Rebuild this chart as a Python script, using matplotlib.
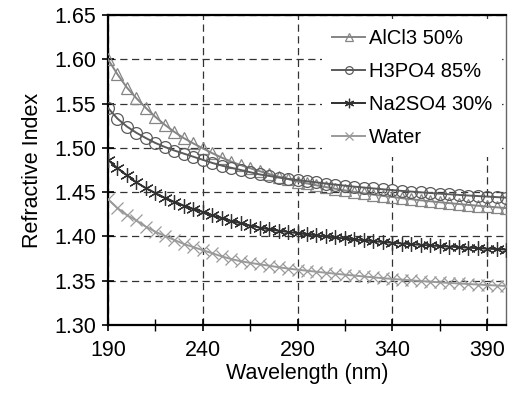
import matplotlib

matplotlib.use("Agg")
import matplotlib.pyplot as plt
from matplotlib.ticker import MultipleLocator, FormatStrFormatter

plt.rcParams["font.family"] = ["Liberation Sans", "DejaVu Sans"]

# wavelength grid, every 5 nm
wavelength = list(range(190, 401, 5))

alcl3 = [1.600, 1.583, 1.568, 1.556, 1.545, 1.535, 1.526, 1.518, 1.511, 1.505,
         1.4995, 1.494, 1.489, 1.4845, 1.4805, 1.477, 1.4737, 1.4705, 1.4675, 1.4647,
         1.462, 1.4598, 1.4577, 1.4557, 1.4538, 1.452, 1.4503, 1.4487, 1.4472, 1.4458,
         1.4445, 1.4432, 1.442, 1.4408, 1.4397, 1.4386, 1.4376, 1.4366, 1.4356, 1.4347,
         1.4338, 1.4329, 1.432]
h3po4 = [1.545, 1.533, 1.524, 1.517, 1.511, 1.5055, 1.501, 1.497, 1.4935, 1.490,
         1.4865, 1.483, 1.480, 1.4775, 1.475, 1.4725, 1.470, 1.4683, 1.4665, 1.465,
         1.4636, 1.4623, 1.461, 1.4597, 1.4585, 1.4573, 1.4562, 1.4552, 1.4542, 1.4532,
         1.4523, 1.4514, 1.4506, 1.4498, 1.449, 1.4483, 1.4476, 1.4469, 1.4462, 1.4456,
         1.445, 1.4444, 1.4438]
na2so4 = [1.4865, 1.477, 1.469, 1.461, 1.4545, 1.449, 1.4435, 1.439, 1.4348, 1.431,
          1.4275, 1.4238, 1.4205, 1.4175, 1.4148, 1.4123, 1.410, 1.408, 1.4064, 1.405,
          1.4037, 1.4024, 1.4012, 1.4, 1.3988, 1.3977, 1.3966, 1.3956, 1.3946, 1.3937,
          1.3928, 1.392, 1.3912, 1.3905, 1.3898, 1.3891, 1.3885, 1.3879, 1.3873, 1.3867,
          1.3862, 1.3857, 1.3852]
water = [1.442, 1.432, 1.424, 1.418, 1.411, 1.4053, 1.4005, 1.396, 1.3915, 1.388,
         1.3845, 1.381, 1.3775, 1.3745, 1.372, 1.3702, 1.3685, 1.367, 1.3652, 1.3637,
         1.3625, 1.3613, 1.3601, 1.359, 1.3579, 1.3568, 1.3558, 1.3548, 1.3538, 1.3529,
         1.352, 1.3512, 1.3504, 1.3496, 1.3489, 1.3482, 1.3475, 1.3469, 1.3463, 1.3457,
         1.3451, 1.3446, 1.3441]

x_ticks = [190, 240, 290, 340, 390]
x_minor = [215, 265, 315, 365]

# label, values, colour, marker, marker size
series = [
    ("AlCl3 50%", alcl3, "#858585", "^", 9),
    ("H3PO4 85%", h3po4, "#5a5a5a", "o", 8.5),
    ("Na2SO4 30%", na2so4, "#303030", (6, 2, 0), 10.5),
    ("Water", water, "#9a9a9a", "x", 9),
]

fig = plt.figure(figsize=(5.08, 4.05), dpi=100)
ax = fig.add_axes([0.2126, 0.1975, 0.7835, 0.7655])

for label, vals, col, mk, ms in series:
    ax.plot(wavelength, vals, color=col, linewidth=1.4, marker=mk, markersize=ms,
            markerfacecolor="none", markeredgecolor=col, markeredgewidth=0.9,
            label=label, zorder=3)

ax.set_xlim(190, 400)
ax.set_ylim(1.30, 1.65)
ax.set_xticks(x_ticks)
ax.set_xticks(x_minor, minor=True)
ax.yaxis.set_major_locator(MultipleLocator(0.05))
ax.yaxis.set_major_formatter(FormatStrFormatter("%.2f"))

ax.grid(True, which="major", color="#333333", linewidth=0.9,
        linestyle=(0, (5.8, 3.6)), zorder=1)

ax.tick_params(which="major", direction="inout", length=9, width=1.2,
               labelsize=15.5, colors="black", pad=6)
ax.tick_params(which="minor", direction="inout", length=8, width=1.0)
ax.tick_params(axis="y", which="major", pad=4)

for side in ("left", "bottom", "top"):
    ax.spines[side].set_linewidth(1.6)
ax.spines["right"].set_linewidth(1.0)
ax.spines["right"].set_color("#666666")

ax.set_xlabel("Wavelength (nm)", fontsize=15.5, labelpad=2)
ax.set_ylabel("Refractive Index", fontsize=15.5, labelpad=8)

leg = ax.legend(loc="upper right", fontsize=14.5, frameon=True, framealpha=1.0,
                edgecolor="white", fancybox=False, handlelength=1.6,
                handletextpad=0.2, labelspacing=0.7, markerscale=0.65,
                borderaxespad=0.2, borderpad=0.5)
leg.get_frame().set_linewidth(0)

fig.savefig("out.png", dpi=100)
